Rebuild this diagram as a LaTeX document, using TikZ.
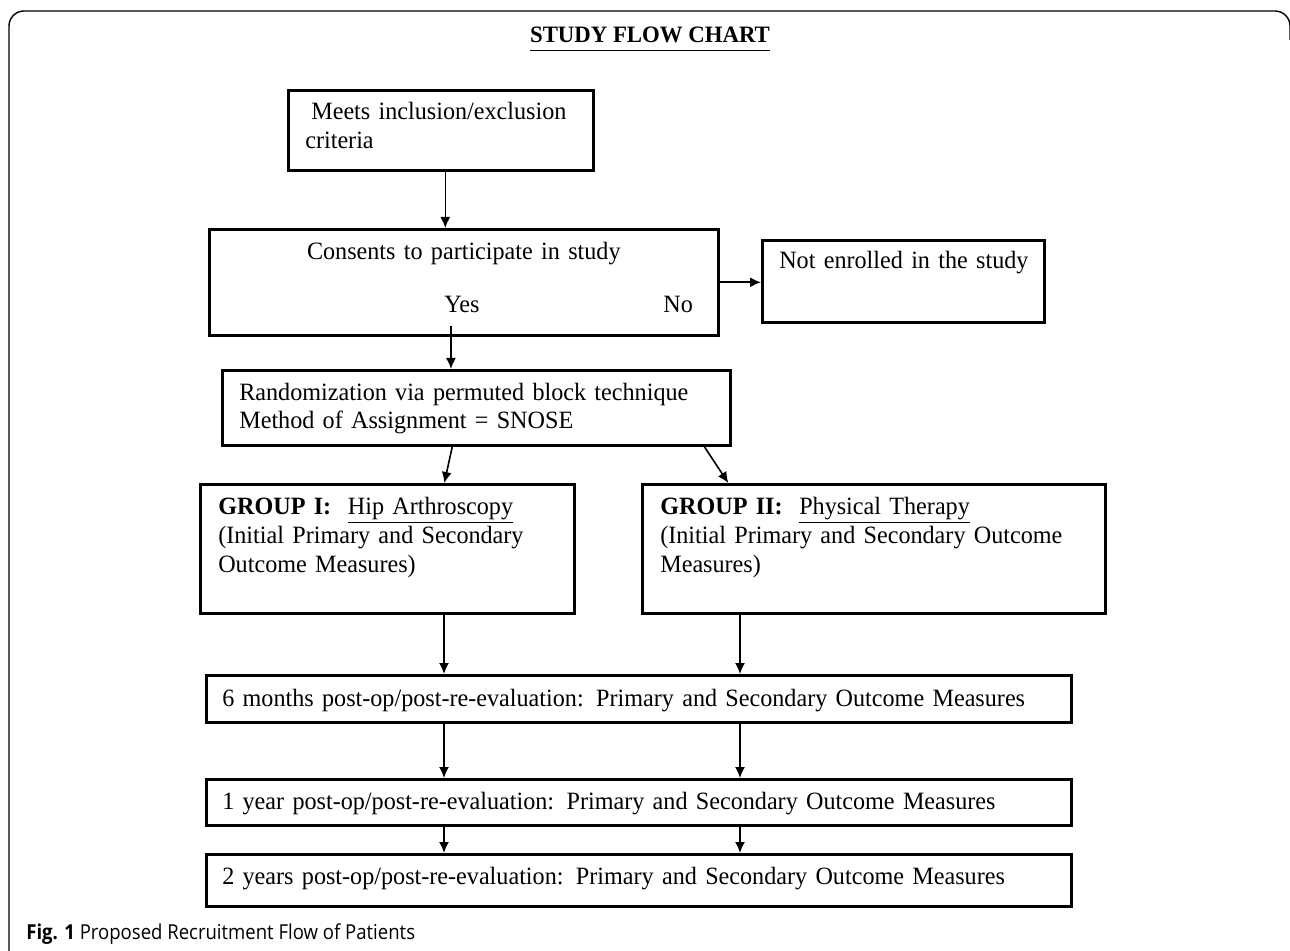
\documentclass[tikz,border=0pt]{standalone}
\usepackage{fontspec}
\setmainfont[FakeStretch=0.97]{Liberation Serif}
\newfontfamily\capfont[FakeStretch=0.9]{Open Sans}
\usetikzlibrary{arrows.meta}

\begin{document}
\begin{tikzpicture}[x=0.5pt,y=-0.5pt]
	\tikzstyle{box}=[draw=black,line width=1.3pt,anchor=north west,align=left,inner ysep=0pt,font=\fontsize{12.45}{14.5}\selectfont]
	\tikzstyle{arr}=[-{Latex[length=5.5pt,width=5pt]},line width=0.8pt]
	\tikzstyle{lbl}=[anchor=base west,inner sep=0pt,font=\fontsize{12.45}{14.5}\selectfont]
	\useasboundingbox (0,0) rectangle (1290,951);
	\draw[line width=0.7pt,rounded corners=7.5pt] (9,951) -- (9,11) -- (1290,11) -- (1290,40);
	\node[anchor=base,font=\fontsize{11.75}{13}\selectfont\bfseries] (title) at (650,43) {\underline{STUDY FLOW CHART\rule[-2.3pt]{0pt}{0pt}}};
	\node[box,text width=135.5pt,inner xsep=8.5pt,text height=14.5pt,text depth=25.5pt] (crit) at (287,89) {\hspace*{3pt}Meets inclusion/exclusion\\criteria};
	\node[box,align=center,text width=244.5pt,inner xsep=5pt,text height=15pt,text depth=38pt] (cons) at (208,228) {Consents to participate in study};
	\node[lbl] (yes) at (444,313) {Yes};
	\node[lbl] (no) at (663,313) {No};
	\node[box,text width=124pt,inner xsep=8.5pt,text height=14pt,text depth=27pt] (notenr) at (761,239) {\mbox{Not enrolled in the study}};
	\node[box,text width=237pt,inner xsep=8.5pt,text height=15pt,text depth=22.5pt,font=\fontsize{12.45}{14}\selectfont] (rand) at (221,369) {Randomization via permuted block technique\\Method of Assignment = SNOSE};
	\node[box,text width=169pt,inner xsep=9pt,text height=15pt,text depth=49.5pt] (gone) at (199,483) {\textbf{GROUP I:}\ \ \underline{Hip Arthroscopy}\\(Initial Primary and Secondary\\Outcome Measures)};
	\node[box,text width=213.5pt,inner xsep=9pt,text height=15pt,text depth=49.5pt] (gtwo) at (641,483) {\textbf{GROUP II:}\ \ \underline{Physical Therapy}\\(Initial Primary and Secondary Outcome\\Measures)};
	\node[box,text width=416.5pt,inner xsep=8pt,text height=15.5pt,text depth=8pt] (msix) at (205,674) {6 months post-op/post-re-evaluation: Primary and Secondary Outcome Measures};
	\node[box,text width=416.5pt,inner xsep=8pt,text height=15pt,text depth=8pt] (yone) at (205,778) {1 year post-op/post-re-evaluation: Primary and Secondary Outcome Measures};
	\node[box,text width=416.5pt,inner xsep=8pt,text height=15pt,text depth=11pt] (ytwo) at (205,853) {2 years post-op/post-re-evaluation: Primary and Secondary Outcome Measures};
	\node[anchor=base west,inner sep=0pt,font=\capfont\fontsize{10.3}{12}\selectfont] (cap) at (26,939) {\textbf{Fig. 1} Proposed Recruitment Flow of Patients};
	\coordinate (lx) at (444,0);
	\coordinate (rx) at (740,0);
	\draw[arr] ([xshift=2.25pt]crit.south) -- ([xshift=2.25pt]crit.south |- cons.north);
	\draw[arr] (cons.east) -- (cons.east -| notenr.west);
	\draw[arr] ([xshift=-5.5pt,yshift=-6pt]yes.south) -- ([xshift=-5.5pt]yes.south |- rand.north);
	\draw[arr] ([xshift=-12pt]rand.south) -- ([xshift=28.5pt]gone.north);
	\draw[arr] ([xshift=114pt]rand.south) -- ([xshift=-72.75pt]gtwo.north);
	\draw[arr] (gone.south -| lx) -- (msix.north -| lx);
	\draw[arr] (gtwo.south -| rx) -- (msix.north -| rx);
	\draw[arr] (msix.south -| lx) -- (yone.north -| lx);
	\draw[arr] (msix.south -| rx) -- (yone.north -| rx);
	\draw[arr] (yone.south -| lx) -- (ytwo.north -| lx);
	\draw[arr] (yone.south -| rx) -- (ytwo.north -| rx);
\end{tikzpicture}
\end{document}
